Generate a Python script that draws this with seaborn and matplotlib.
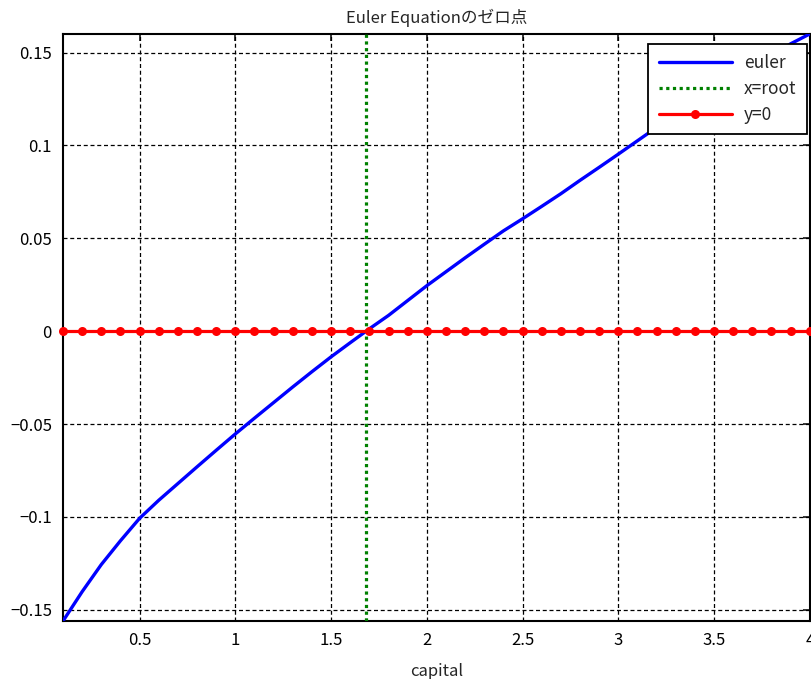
import numpy as np
import pandas as pd
import seaborn as sb
import matplotlib
matplotlib.use("Agg")
import matplotlib.pyplot as plt
from matplotlib.ticker import FuncFormatter

# capital grid and euler residual
capital = [0.1, 0.2, 0.3, 0.4, 0.5, 0.6, 0.7, 0.8, 0.9, 1.0,
           1.1, 1.2, 1.3, 1.4, 1.5, 1.6, 1.7, 1.8, 1.9, 2.0,
           2.1, 2.2, 2.3, 2.4, 2.5, 2.6, 2.7, 2.8, 2.9, 3.0,
           3.1, 3.2, 3.3, 3.4, 3.5, 3.6, 3.7, 3.8, 3.9, 4.0]
euler = [-0.1560, -0.1402, -0.1256, -0.1128, -0.1007, -0.0910, -0.0820, -0.0730, -0.0641, -0.0553,
         -0.0468, -0.0384, -0.0300, -0.0218, -0.0138, -0.0062, 0.0013, 0.0085, 0.0165, 0.0245,
         0.0320, 0.0395, 0.0468, 0.0540, 0.0605, 0.0672, 0.0740, 0.0812, 0.0882, 0.0953,
         0.1025, 0.1097, 0.1163, 0.1228, 0.1292, 0.1357, 0.1420, 0.1484, 0.1547, 0.1600]
zero_line = [0.0] * len(capital)
root = 1.68

x_ticks = [0.5, 1, 1.5, 2, 2.5, 3, 3.5, 4]
y_ticks = [-0.15, -0.1, -0.05, 0, 0.05, 0.1, 0.15]

sb.set_style("white")
plt.rcParams['font.family'] = ['Noto Sans CJK JP', 'DejaVu Sans']
plt.rcParams['axes.unicode_minus'] = True

df = pd.DataFrame({"capital": capital, "euler": euler, "zero": zero_line})

fig = plt.figure(figsize=(8.11, 6.79), dpi=100)
ax = fig.add_axes([0.0777, 0.0854, 0.9208, 0.8646])

# euler equation curve
sb.lineplot(data=df, x="capital", y="euler", ax=ax, color="blue",
            linewidth=2.4, label="euler", zorder=3)

# vertical line at the root
ax.axvline(root, color=(0, 0.5, 0), linestyle=(0, (1, 1.1)), linewidth=2.3,
           label="x=root", zorder=3)

# y = 0 line with markers
sb.lineplot(data=df, x="capital", y="zero", ax=ax, color="red",
            linewidth=2.3, marker="o", markersize=6.5, markeredgewidth=0,
            label="y=0", zorder=4, clip_on=False)

ax.set_xlim(min(capital), max(capital))
ax.set_ylim(min(euler), max(euler))
ax.set_xticks(x_ticks)
ax.set_yticks(y_ticks)

fmt = FuncFormatter(lambda v, p: f"{v:g}".replace("-", "\u2212"))
ax.xaxis.set_major_formatter(fmt)
ax.yaxis.set_major_formatter(fmt)

ax.grid(True, color="black", linestyle=(0, (3.2, 2.2)), linewidth=0.9)
ax.tick_params(direction="in", length=5, width=1.1, top=True, right=True,
               labelsize=12, pad=8, colors="black")
for s in ax.spines.values():
    s.set_color("black")
    s.set_linewidth(1.5)

ax.set_title("Euler Equationのゼロ点", fontsize=12, pad=8)
ax.set_xlabel("capital", fontsize=12, labelpad=10)
ax.set_ylabel("")

leg = ax.legend(loc="upper right", bbox_to_anchor=(0.996, 0.983),
                fontsize=12.5, handlelength=4.2, handletextpad=0.7,
                frameon=True, fancybox=False, framealpha=1,
                borderaxespad=0, borderpad=0.6, labelspacing=0.45)
leg.get_frame().set_edgecolor("black")
leg.get_frame().set_linewidth(1.3)

plt.savefig("out.png", dpi=100)
plt.close()
